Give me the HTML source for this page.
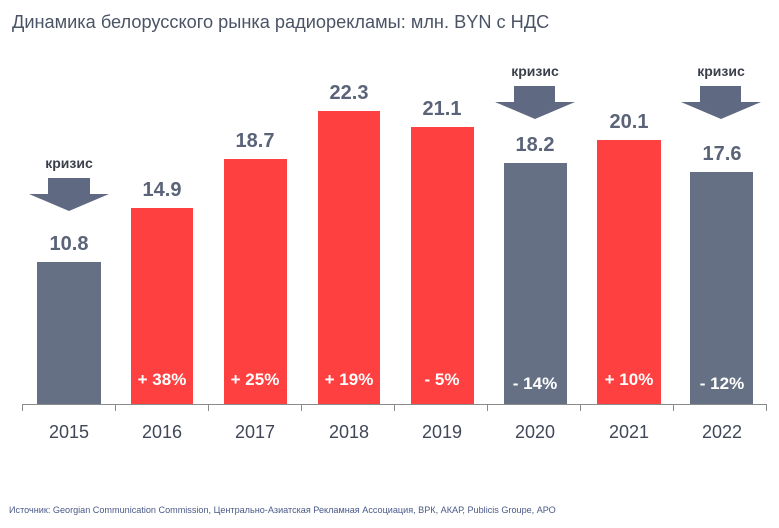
<!DOCTYPE html><html><head><meta charset="utf-8"><style>
body{margin:0;background:#fff;width:779px;height:523px;overflow:hidden}
</style></head><body>
<svg width="779" height="523" xmlns="http://www.w3.org/2000/svg" font-family="Liberation Sans, DejaVu Sans, sans-serif">
<text x="12" y="28" font-size="18.2" fill="#4a5466">Динамика белорусского рынка радиорекламы: млн. BYN с НДС</text>
<line x1="22" y1="404.5" x2="767" y2="404.5" stroke="#8a8a8a" stroke-width="1"/>
<g stroke="#8a8a8a">
<line x1="22.5" y1="404" x2="22.5" y2="411"/><line x1="115.5" y1="404" x2="115.5" y2="411"/><line x1="208.5" y1="404" x2="208.5" y2="411"/><line x1="301.5" y1="404" x2="301.5" y2="411"/><line x1="394.5" y1="404" x2="394.5" y2="411"/><line x1="487.5" y1="404" x2="487.5" y2="411"/><line x1="580.5" y1="404" x2="580.5" y2="411"/><line x1="673.5" y1="404" x2="673.5" y2="411"/><line x1="766.5" y1="404" x2="766.5" y2="411"/>
</g>
<g font-size="18" fill="#404858" text-anchor="middle">
<text x="69" y="438">2015</text><text x="162" y="438">2016</text><text x="255" y="438">2017</text><text x="349" y="438">2018</text><text x="442" y="438">2019</text><text x="535" y="438">2020</text><text x="629" y="438">2021</text><text x="722" y="438">2022</text>
</g>
<g fill="#667085">
<rect x="37" y="262" width="64" height="142"/>
<rect x="504" y="163" width="63" height="241"/>
<rect x="690" y="172" width="63" height="232"/>
</g>
<g fill="#ff4040">
<rect x="131" y="208" width="62" height="196"/>
<rect x="224" y="159" width="63" height="245"/>
<rect x="318" y="111" width="62" height="293"/>
<rect x="411" y="127" width="63" height="277"/>
<rect x="597" y="140" width="64" height="264"/>
</g>
<g font-size="20" font-weight="bold" fill="#5a6378" text-anchor="middle">
<text x="69" y="250">10.8</text><text x="162" y="196">14.9</text><text x="255" y="147">18.7</text><text x="349" y="99">22.3</text><text x="442" y="115">21.1</text><text x="535" y="151">18.2</text><text x="629" y="128">20.1</text><text x="722" y="160">17.6</text>
</g>
<g font-size="17" font-weight="bold" fill="#fff" text-anchor="middle">
<text x="162" y="385">+ 38%</text><text x="255" y="385">+ 25%</text><text x="349" y="385">+ 19%</text><text x="442" y="385">- 5%</text><text x="535" y="389">- 14%</text><text x="629" y="385">+ 10%</text><text x="722" y="389">- 12%</text>
</g>
<g fill="#5f6a82">
<polygon points="48,178 90,178 90,194 109,194 69,211 29,194 48,194"/>
<polygon points="514,86 555,86 555,102 575,102 535,119 495,102 514,102"/>
<polygon points="700,86 741,86 741,102 761,102 721,119 681,102 700,102"/>
</g>
<g font-size="14" font-weight="bold" fill="#3a3f4a" text-anchor="middle">
<text x="69" y="168">кризис</text><text x="535" y="76">кризис</text><text x="721" y="76">кризис</text>
</g>
<text x="9" y="513" font-size="9.1" fill="#4a5a88">Источник: Georgian Communication Commission, Центрально-Азиатская Рекламная Ассоциация, ВРК, АКАР, Publicis Groupe, АРО</text>
</svg>
</body></html>
